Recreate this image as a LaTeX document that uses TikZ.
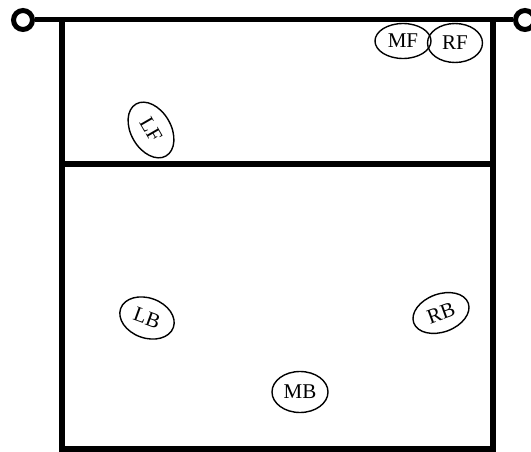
\documentclass[tikz,border=0pt]{standalone}
\usepackage{fontspec}
\setmainfont{Liberation Serif}
\usetikzlibrary{shapes.geometric}

\begin{document}
\begin{tikzpicture}[
  x=1pt, y=-1pt,
  court/.style={line width=5.5pt, line cap=rect},
  post/.style={circle, draw, line width=5pt, minimum size=19pt, inner sep=0pt},
  player/.style={ellipse, draw, line width=1.4pt, inner sep=0pt,
                 minimum width=56pt, minimum height=40pt,
                 font=\fontsize{21}{23}\selectfont}
]
\useasboundingbox (0,0) rectangle (531,452);

% --- Net posts and net ---
\node[post] (postL) at (23,20)  {};
\node[post] (postR) at (525,20) {};
\draw[line width=5pt] (postL) -- (postR);

% --- Court ---
\draw[court] (62,20) -- (62,449) -- (493,449) -- (493,20);
\draw[court] (62,164) -- (493,164);

% --- Players ---
\node[player, minimum height=35pt] (MF) at (403,41) {MF};
\node[player, minimum width=55pt, minimum height=39pt] (RF) at (455,43) {RF};
\node[player, minimum width=60pt, rotate=-60] (LF) at (151,130) {LF};
\node[player, rotate=-20] (LB) at (147,318) {LB};
\node[player, minimum width=58pt, minimum height=38pt, rotate=20] (RB) at (441,313) {RB};
\node[player, minimum height=41pt] (MB) at (300,392) {MB};

\end{tikzpicture}
\end{document}
